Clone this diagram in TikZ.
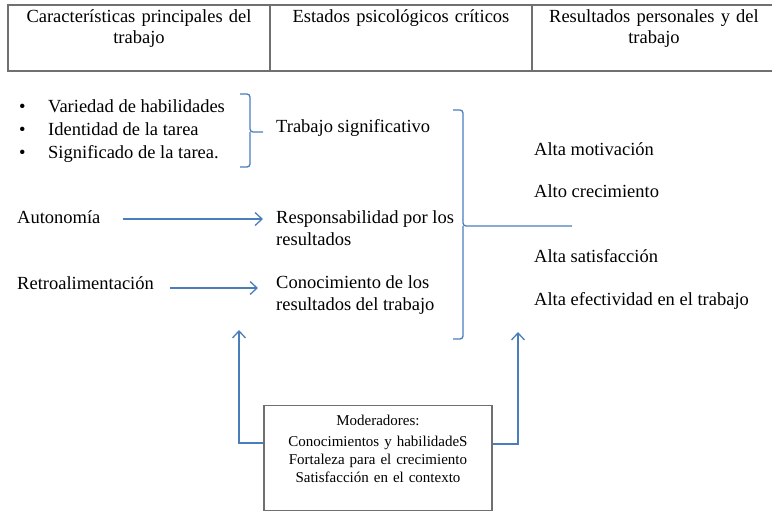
\documentclass[tikz,border=0pt]{standalone}
\usepackage{fontspec}
\setmainfont{LiberationSerif}[Extension=.ttf, UprightFont=*-Regular, BoldFont=*-Bold, ItalicFont=*-Italic, BoldItalicFont=*-BoldItalic]
\usepackage{xcolor}
\usepackage{tikz}
\usetikzlibrary{arrows.meta}
\usetikzlibrary{positioning}
\definecolor{azul}{HTML}{4A7EBB}
\definecolor{gris}{HTML}{707070}
\tikzset{
    tnode/.style = {inner sep=0pt, font=\fontsize{18.5}{21.5}\selectfont},
    celda/.style = {tnode, draw=gris, line width=1.2pt, outer sep=0pt, align=center, inner xsep=4pt, text height=17pt, text depth=49pt},
    texto/.style = {tnode, align=left, anchor=base west},
    moder/.style = {draw=gris, line width=1.2pt, anchor=north, text width=220pt, inner xsep=4pt, inner ysep=0pt, align=center, text height=20pt, text depth=85pt, font=\fontsize{15}{18}\selectfont},
    flecha/.style = {azul, line width=1.3pt, ->},
    llave/.style = {azul, line width=1.3pt, rounded corners=3pt}
}

\begin{document}
\begin{tikzpicture}
            [x=1pt, y=-1pt,
            >={Straight Barb[length=7pt,width=13pt]}]

            \useasboundingbox (0,0) rectangle (772,512);

            % cabecera
            \node [celda, text width=254pt, anchor=north west] (c1) at (8,5)
                {Características principales del\\trabajo};
            \node [celda, text width=254pt, right=0pt of c1] (c2)
                {Estados psicológicos críticos};
            \node [celda, text width=236pt, right=0pt of c2] (c3)
                {Resultados personales y del\\trabajo};

            % caracteristicas (base = ultima linea)
            \node [texto, font=\fontsize{18.5}{23}\selectfont] (habil) at (19,158)
                {\makebox[29pt][l]{\textbullet}Variedad de habilidades\\
                 \makebox[29pt][l]{\textbullet}Identidad de la tarea\\
                 \makebox[29pt][l]{\textbullet}Significado de la tarea.};
            \node [texto] (auto) at (17,223) {Autonomía};
            \node [texto] (retro) at (17,289) {Retroalimentación};

            % estados
            \node [texto] (signif) at (276,132) {Trabajo significativo};
            \node [texto] (resp) at (276,245) {Responsabilidad por los\\resultados};
            \node [texto] (conoc) at (276,310) {Conocimiento de los\\resultados del trabajo};

            % resultados
            \node [texto] (motiv) at (534,155) {Alta motivación};
            \node [texto] (crec) at (534,197) {Alto crecimiento};
            \node [texto] (satis) at (534,262) {Alta satisfacción};
            \node [texto] (efect) at (534,305) {Alta efectividad en el trabajo};

            % moderadores
            \node [moder] (mod) at (378,405)
                {Moderadores:\\[3pt]
                 Conocimientos y habilidadeS\\
                 Fortaleza para el crecimiento\\
                 Satisfacción en el contexto};

            \coordinate (res) at (572,226);
            \coordinate (izq) at (239,330);
            \coordinate (der) at (518,332);

            % llaves
            \draw [llave] (240,94) -- (250,94) -- (250,132) -- (263,132);
            \draw [llave] (250,132) -- (250,167) -- (240,167);
            \draw [llave] (453,110) -- (463,110) -- (463,226) -- (res);
            \draw [llave] (463,226) -- (463,339) -- (453,339);

            % flechas
            \draw [flecha] ([shift={(22pt,4pt)}]auto.base east) -- ([shift={(-13pt,26pt)}]resp.base west);
            \draw [flecha] ([shift={(16pt,1pt)}]retro.base east) -- ([shift={(-18pt,22pt)}]conoc.base west);
            \draw [flecha] (mod.west |- 0,443) -| (izq);
            \draw [flecha] (mod.east |- 0,444) -| (der);
\end{tikzpicture}
\end{document}
